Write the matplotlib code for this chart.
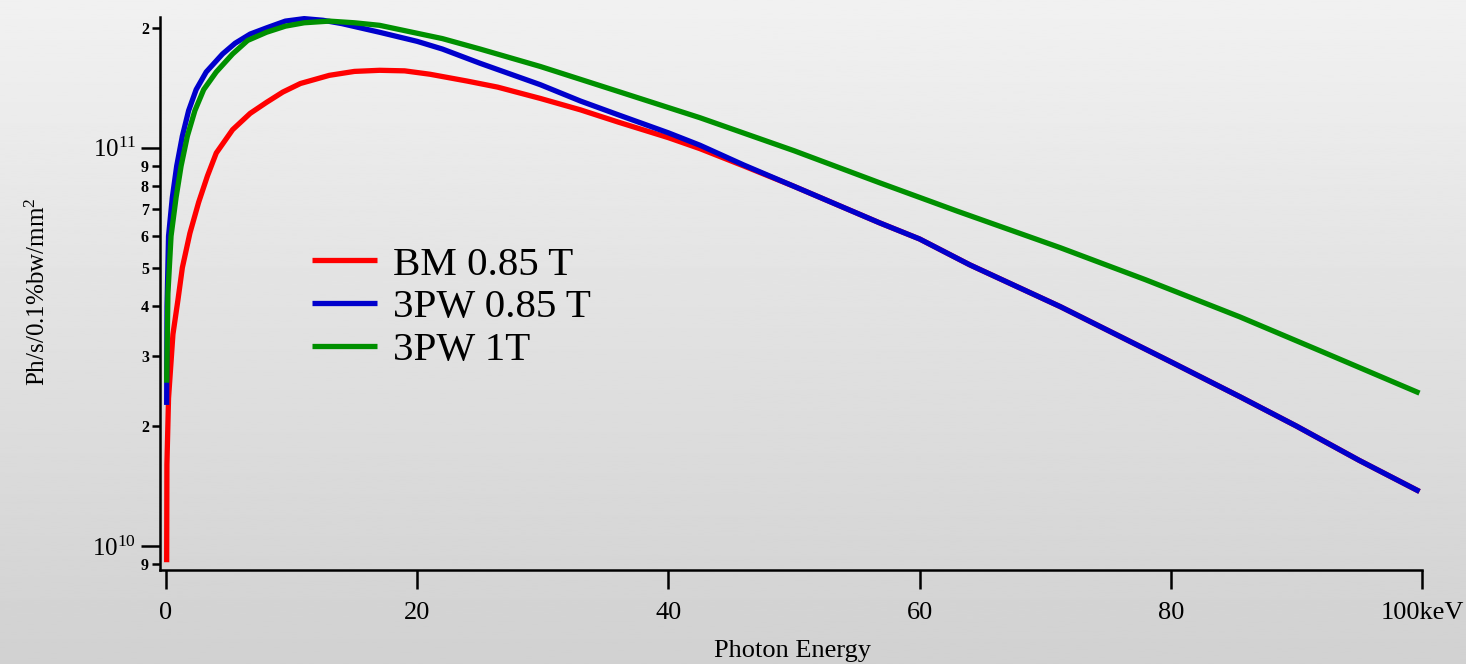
import numpy as np
import matplotlib
matplotlib.use("Agg")
import matplotlib.pyplot as plt
from matplotlib.ticker import FixedLocator, FixedFormatter

plt.rcParams['font.family'] = ['Liberation Serif', 'DejaVu Serif']
plt.rcParams['mathtext.fontset'] = 'custom'
plt.rcParams['mathtext.rm'] = 'Liberation Serif'

# photon energy (keV) and flux (ph/s/0.1%bw/mm^2)
energy_bm = [0.05, 0.07, 0.2, 0.55, 0.95, 1.3, 1.9, 2.6, 3.3, 4.0, 5.3, 6.7, 8.0,
             9.3, 10.7, 13, 15, 17, 19, 21, 24, 26.4, 29.8, 33, 36, 40, 42.5, 46,
             50, 56.8, 60, 64, 71.2, 80, 85.5, 90, 95, 99.8]
flux_bm = [9.1e9, 1.6e10, 2.35e10, 3.4e10, 4.15e10, 5.0e10, 6.1e10, 7.3e10, 8.5e10,
           9.7e10, 1.11e11, 1.22e11, 1.30e11, 1.38e11, 1.45e11, 1.52e11, 1.555e11,
           1.565e11, 1.56e11, 1.53e11, 1.47e11, 1.42e11, 1.33e11, 1.245e11, 1.16e11,
           1.06e11, 0.995e11, 0.90e11, 0.80e11, 0.648e11, 0.59e11, 0.508e11,
           0.399e11, 0.29e11, 0.237e11, 0.20e11, 0.164e11, 0.137e11]

energy_pw085 = [0.05, 0.08, 0.2, 0.5, 0.85, 1.3, 1.8, 2.4, 3.2, 4.5, 5.5, 6.7, 8.0,
                9.5, 11, 12.5, 14, 17, 20, 22, 25, 29.8, 33, 36, 40, 42.5, 46, 50,
                56.8, 60, 64, 71.2, 80, 85.5, 90, 95, 99.8]
flux_pw085 = [2.26e10, 4.0e10, 6.0e10, 7.5e10, 9.0e10, 1.07e11, 1.24e11, 1.40e11,
              1.55e11, 1.72e11, 1.83e11, 1.93e11, 2.00e11, 2.08e11, 2.11e11,
              2.09e11, 2.05e11, 1.95e11, 1.85e11, 1.77e11, 1.63e11, 1.44e11,
              1.31e11, 1.21e11, 1.09e11, 1.015e11, 0.905e11, 0.80e11, 0.648e11,
              0.59e11, 0.508e11, 0.399e11, 0.29e11, 0.237e11, 0.20e11, 0.164e11,
              0.137e11]

energy_pw1 = [0.05, 0.15, 0.4, 0.8, 1.2, 1.7, 2.3, 3.0, 4.0, 5.3, 6.5, 8.0, 9.5,
              11, 13, 15, 17, 22, 25, 29.8, 36, 42.5, 50, 56.8, 63, 71.2, 78, 85.5,
              92, 99.8]
flux_pw1 = [2.57e10, 4.3e10, 6.0e10, 7.5e10, 9.0e10, 1.07e11, 1.24e11, 1.40e11,
            1.55e11, 1.72e11, 1.86e11, 1.95e11, 2.02e11, 2.06e11, 2.08e11, 2.06e11,
            2.03e11, 1.88e11, 1.77e11, 1.60e11, 1.385e11, 1.19e11, 0.983e11,
            0.817e11, 0.693e11, 0.561e11, 0.466e11, 0.376e11, 0.308e11, 0.242e11]

series = [
    ("BM 0.85 T", energy_bm, flux_bm, "#ff0000"),
    ("3PW 0.85 T", energy_pw085, flux_pw085, "#0000cc"),
    ("3PW 1T", energy_pw1, flux_pw1, "#009000"),
]

x_ticks = [0, 20, 40, 60, 80, 100]
x_labels = ["0", "20", "40", "60", "80", "100keV"]
y_major = [1e10, 1e11]
y_major_labels = [r"$\mathregular{10^{10}}$", r"$\mathregular{10^{11}}$"]
y_minor = [9e9, 2e10, 3e10, 4e10, 5e10, 6e10, 7e10, 8e10, 9e10, 2e11]
y_minor_labels = ["9", "2", "3", "4", "5", "6", "7", "8", "9", "2"]

W, H = 1466, 664
fig = plt.figure(figsize=(W / 100, H / 100), dpi=100)

# grey vertical gradient background
bg = fig.add_axes([0, 0, 1, 1], zorder=-1)
grad = np.linspace(0.945, 0.82, 256).reshape(-1, 1)
bg.imshow(grad, aspect='auto', cmap='gray', vmin=0, vmax=1, extent=[0, 1, 0, 1])
bg.axis('off')

ax = fig.add_axes([160 / W, 1 - 570 / H, (1422 - 160) / W, (570 - 17) / H])
ax.set_facecolor('none')

for name, xs, ys, col in series:
    ax.plot(xs, ys, color=col, lw=3.8, label=name, clip_on=False,
            solid_capstyle='butt', solid_joinstyle='round')

ax.set_yscale('log')
ax.set_xlim(-0.48, 100)
ax.set_ylim(8.7e9, 2.13e11)

ax.spines['top'].set_visible(False)
ax.spines['right'].set_visible(False)
for s in ('left', 'bottom'):
    ax.spines[s].set_linewidth(1.8)

ax.xaxis.set_major_locator(FixedLocator(x_ticks))
ax.xaxis.set_major_formatter(FixedFormatter(x_labels))
ax.xaxis.set_minor_locator(FixedLocator([]))
ax.tick_params(axis='x', which='major', direction='out', length=14, width=1.8,
               labelsize=19, pad=9)

ax.yaxis.set_major_locator(FixedLocator(y_major))
ax.yaxis.set_major_formatter(FixedFormatter(y_major_labels))
ax.yaxis.set_minor_locator(FixedLocator(y_minor))
ax.yaxis.set_minor_formatter(FixedFormatter(y_minor_labels))
ax.tick_params(axis='y', which='major', direction='out', length=14, width=1.8,
               labelsize=18, pad=3)
ax.tick_params(axis='y', which='minor', direction='out', length=6, width=1.8,
               labelsize=11.5, pad=2)
for lab in ax.yaxis.get_minorticklabels():
    lab.set_fontweight('bold')

fig.text(792 / W, 1 - 651 / H, "Photon Energy", fontsize=19,
         ha='center', va='center')
fig.text(38 / W, 1 - 292 / H, r"$\mathregular{Ph/s/0.1\%bw/mm^{2}}$", rotation=90,
         fontsize=18, ha='center', va='center')

ax.legend(loc='upper left', bbox_to_anchor=(312 / W, 1 - 246 / H),
          bbox_transform=fig.transFigure, frameon=False, fontsize=29.5,
          handlelength=1.58, handletextpad=0.4, labelspacing=0.12,
          borderpad=0, borderaxespad=0)

fig.savefig("out.png", dpi=100)
